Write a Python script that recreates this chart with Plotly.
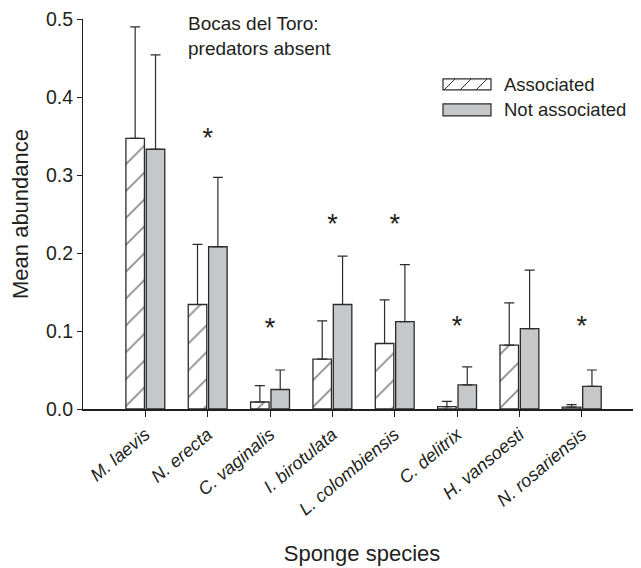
import plotly.graph_objects as go

species = ["M. laevis", "N. erecta", "C. vaginalis", "I. birotulata",
           "L. colombiensis", "C. delitrix", "H. vansoesti", "N. rosariensis"]
assoc_mean = [0.347, 0.134, 0.009, 0.064, 0.084, 0.003, 0.082, 0.0025]
assoc_se = [0.143, 0.077, 0.021, 0.049, 0.056, 0.0067, 0.054, 0.003]
notassoc_mean = [0.333, 0.208, 0.025, 0.134, 0.112, 0.031, 0.103, 0.029]
notassoc_se = [0.121, 0.089, 0.025, 0.062, 0.073, 0.023, 0.075, 0.021]
star_y = [None, 0.345, 0.101, 0.234, 0.234, 0.103, None, 0.103]
y_ticks = [0.0, 0.1, 0.2, 0.3, 0.4, 0.5]

FONT = "Liberation Sans, Arial, Helvetica, sans-serif"
INK = "#231f20"
EDGE = "#2b2b2b"
GREY = "#c6c7c8"

fig = go.Figure()
fig.add_trace(go.Bar(
    x=species, y=assoc_mean, name="Associated", showlegend=False,
    marker=dict(color="white", line=dict(color=EDGE, width=1.3),
                pattern=dict(shape="/", bgcolor="white", fgcolor="#111111",
                             size=19, solidity=0.09)),
    error_y=dict(type="data", array=assoc_se, arrayminus=[0] * len(assoc_se),
                 symmetric=False, color=EDGE, thickness=1.2, width=5),
))
fig.add_trace(go.Bar(
    x=species, y=notassoc_mean, name="Not associated", showlegend=False,
    marker=dict(color=GREY, line=dict(color=EDGE, width=1.3)),
    error_y=dict(type="data", array=notassoc_se, arrayminus=[0] * len(notassoc_se),
                 symmetric=False, color=EDGE, thickness=1.2, width=5),
))
sx = [s for s, v in zip(species, star_y) if v is not None]
sy = [v for v in star_y if v is not None]
fig.add_trace(go.Scatter(
    x=sx, y=sy, mode="text", text=["*"] * len(sx), showlegend=False,
    textposition="middle center",
    textfont=dict(family=FONT, size=27, color=INK), hoverinfo="skip",
))

# custom legend (layout decoration), positions in page pixels of the plot area
TOP = 19.0
L_W = 558.0
L_H = 409.3 - TOP
def px(xp):
    return (xp - 83) / L_W
def py(yp):
    return (409.3 - yp) / L_H

shapes = []
annotations = []
legend_items = [("Associated", 79, 90, True), ("Not associated", 104, 116, False)]
for label, y0, y1, hatched in legend_items:
    shapes.append(dict(type="rect", xref="paper", yref="paper",
                       x0=px(443), x1=px(491), y0=py(y1), y1=py(y0),
                       fillcolor="white" if hatched else GREY,
                       line=dict(color=EDGE, width=1.2), layer="above"))
    if hatched:
        for xs in (444, 460, 476):
            shapes.append(dict(type="line", xref="paper", yref="paper",
                               x0=px(xs), x1=px(xs + 11), y0=py(y1), y1=py(y0),
                               line=dict(color=EDGE, width=1), layer="above"))
    annotations.append(dict(text=label, xref="paper", yref="paper",
                            x=px(502), y=py((y0 + y1) / 2), xanchor="left",
                            yanchor="middle", showarrow=False,
                            font=dict(family=FONT, size=18.5, color=INK)))

annotations.append(dict(text="Bocas del Toro:<br>predators absent",
                        xref="paper", yref="paper", x=px(186), y=py(11),
                        xanchor="left", yanchor="top", align="left",
                        showarrow=False,
                        font=dict(family=FONT, size=19, color=INK)))

fig.update_layout(
    width=633, height=560,
    margin=dict(l=75, r=0, t=TOP - 8, b=159, autoexpand=False),
    paper_bgcolor="white", plot_bgcolor="white",
    barmode="group", bargap=0.347, bargroupgap=0.09,
    font=dict(family=FONT, color=INK),
    shapes=shapes, annotations=annotations,
    xaxis=dict(
        range=[-1, 7.95], showline=True, linecolor=INK, linewidth=2.2,
        ticks="outside", ticklen=6, tickcolor=INK, tickwidth=1.2,
        tickangle=-40, showgrid=False, zeroline=False,
        ticklabeloverflow="allow",
        tickfont=dict(family=FONT, size=18, color=INK),
        tickvals=species, ticktext=["<i>" + s + "</i>" for s in species],
        title=dict(text="Sponge species", standoff=27,
                   font=dict(family=FONT, size=22, color=INK)),
    ),
    yaxis=dict(
        range=[0, 0.5], showline=True, linecolor=INK, linewidth=1.2,
        ticks="outside", ticklen=5, tickcolor=INK, tickwidth=1.2,
        tickvals=y_ticks, ticktext=["%.1f" % v for v in y_ticks],
        showgrid=False, zeroline=False, ticklabeloverflow="allow",
        tickfont=dict(family=FONT, size=19.5, color=INK),
        title=dict(text="Mean abundance", standoff=14,
                   font=dict(family=FONT, size=22, color=INK)),
    ),
)

fig.write_html("out.html")
